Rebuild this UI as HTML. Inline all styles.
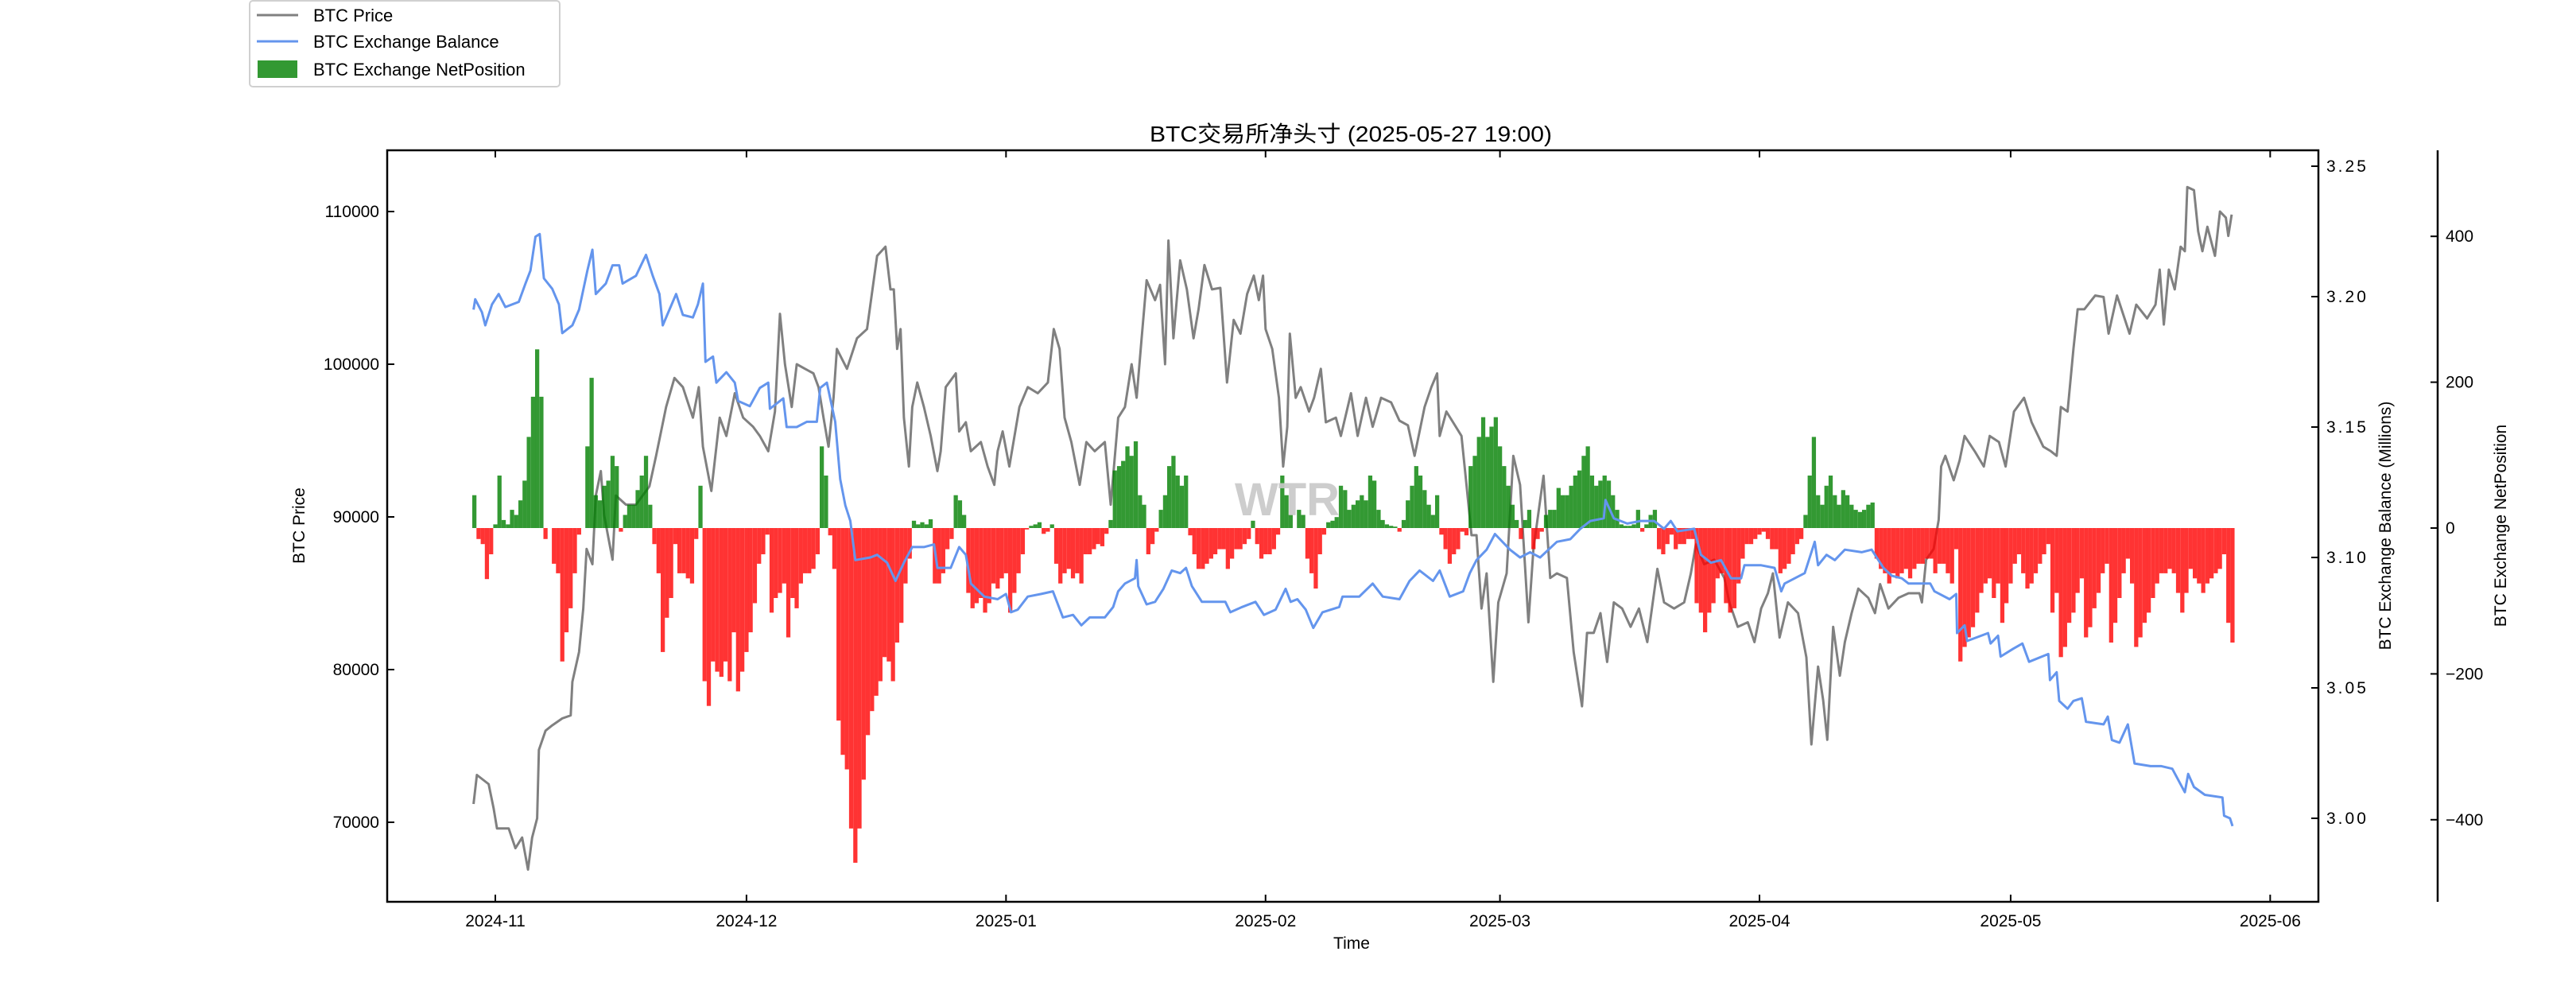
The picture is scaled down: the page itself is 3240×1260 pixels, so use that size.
<!DOCTYPE html>
<html><head><meta charset="utf-8"><style>
html,body{margin:0;padding:0;background:#fff;}
svg{display:block;font-family:"Liberation Sans","Noto Sans CJK SC",sans-serif;}
</style></head><body>
<svg id="chart" width="3240" height="1260" viewBox="0 0 3240 1260" xmlns="http://www.w3.org/2000/svg">
<defs><clipPath id="plotclip"><rect x="487" y="189" width="2428" height="945"/></clipPath></defs>
<rect x="0" y="0" width="3240" height="1260" fill="#fff"/>
<text x="1699" y="178" font-size="28" text-anchor="middle" textLength="506" lengthAdjust="spacingAndGlyphs">BTC交易所净头寸 (2025-05-27 19:00)</text>
<g id="plot" clip-path="url(#plotclip)"></g>
<text x="1619" y="648" font-size="58" font-weight="bold" fill="#c8c8c8" text-anchor="middle" opacity="0.9">WTR</text>
<g id="axes"></g>
<g>
<rect x="314" y="1" width="390" height="108" rx="4" fill="#fff" stroke="#d0d0d0" stroke-width="2"/>
<line x1="323" y1="19" x2="375" y2="19" stroke="#808080" stroke-width="3"/>
<text x="394" y="27" font-size="22">BTC Price</text>
<line x1="323" y1="52" x2="375" y2="52" stroke="#6495ED" stroke-width="3"/>
<text x="394" y="60" font-size="22">BTC Exchange Balance</text>
<rect x="324" y="76" width="50" height="22" fill="#339933"/>
<text x="394" y="95" font-size="22">BTC Exchange NetPosition</text>
</g>
</svg>
<script>
// day offsets from 2024-11-01
const priceDays=[-2.6,-2.2,-0.8,-0.2,0.2,1.6,2.4,3.2,3.9,4.4,5.0,5.2,6,6.8,8,9,9.2,10,10.5,10.9,11.6,12,12.6,13,14,14.4,15.6,16.8,18.4,19.2,20.4,21.4,22.4,23.6,24.3,24.8,25.8,26.8,27.6,28.6,29.6,30.8,31.6,32.6,33.4,34,34.6,35.4,36,37,38,38.6,39.2,39.8,40.4,40.8,42,43.2,44.4,45.6,46.6,47.2,47.6,48,48.4,48.8,49.4,49.8,50.4,51.2,52,52.8,53.2,53.8,55,55.4,56.2,56.8,58,58.8,59.6,60,60.6,61.4,62.6,63.6,64.8,66,66.7,67.4,68,68.8,69.8,70.6,71.6,72.8,73.5,74.4,75.2,76,76.6,77.2,77.8,78.8,79.4,80,80.4,81,81.8,82.6,83.4,84,84.7,85.6,86.6,87.4,88.2,89,89.8,90.6,91.2,91.7,92,92.8,93.6,94.1,94.6,94.9,95.6,96.2,97.2,97.8,98.6,99.2,100.4,101,102.2,103,104,104.8,105.8,107,108,109,109.8,111,111.8,112.5,112.8,113.6,114.4,115.4,116,116.6,117.2,117.8,118.4,119.2,119.8,120.8,121.6,122.4,123.4,124,125.2,126,126.8,128,128.8,129.8,130.4,131.2,132,132.8,133.6,134.6,135.6,136.6,137.6,138.8,139.6,140.8,142,142.8,143.4,144.4,145.6,146.8,147.4,148.4,149.6,150.4,151.2,152,152.6,153.4,154.4,155.6,156.6,157.2,158,158.6,159.1,159.8,160.6,161.2,162,162.8,164,164.8,165.4,166.4,167.6,168.8,170.1,170.4,170.9,171.8,172.4,172.7,173.2,174.2,174.9,175.5,176.7,177.8,178.5,179.6,180.4,181.4,182.6,183.5,184.9,185.8,186.5,187,187.8,188.5,189,189.8,191.1,192.1,192.7,193.7,195.2,196,197.3,198.3,198.8,199.3,199.9,200.6,201.3,201.8,202.1,202.9,203.4,203.9,204.5,205.4,206,206.7,207,207.4];
const priceVals=[71200,73100,72500,70900,69600,69600,68300,69000,66900,69000,70260,74740,76000,76350,76800,77000,79200,81150,84000,87900,86900,91400,93000,90100,87200,91400,90800,90800,92000,94000,97200,99100,98500,96500,98500,94600,91700,96500,95300,98100,96500,95900,95300,94300,96900,103300,100000,97200,100000,99700,99400,98500,96500,94600,97800,101000,99700,101700,102300,107100,107700,104900,104900,101000,102300,96500,93300,97200,98800,97200,95300,93000,94300,98500,99400,95600,96200,94300,94900,93300,92100,94300,95600,93300,97200,98500,98100,98800,102300,101000,96500,94900,92100,94900,94300,94900,90800,96500,97200,100000,97800,101700,105500,104200,105200,100000,108100,101700,106800,104900,101700,103600,106500,104900,105000,98800,102900,102000,104600,105800,104200,105800,102300,101000,97800,93300,95900,102000,97800,98500,96900,97800,99700,96200,96500,95300,98100,95300,97800,95900,97800,97500,96300,96000,94000,97200,98500,99400,95300,96900,96200,95300,92100,88800,88800,84000,86300,79200,84400,86300,94000,92100,83100,87900,92700,86000,86300,86000,81150,77600,82400,82400,83700,80500,84400,84000,82800,84000,81800,86600,84400,84000,84400,86300,88200,86900,87200,86000,84400,82800,83100,81800,84000,85000,86300,82100,84400,83700,80800,75100,80200,78000,75400,82800,79600,81800,83700,85300,84700,83700,85600,84000,84700,85000,85000,84400,87200,87900,89800,93300,94000,92400,93700,95300,94300,93300,95300,94900,93300,96900,97800,96200,94600,94300,94000,97200,96900,101000,103600,103600,104500,104400,102000,104500,102000,103900,103000,103900,106200,102600,106200,104900,107700,107400,111600,111400,108700,107400,109000,107100,110000,109600,108400,109800];
const balDays=[-2.6,-2.4,-1.6,-1.2,-0.4,0.4,1.2,2.8,3.6,4.2,4.8,5.3,5.8,6.8,7.6,8,9.2,10,11,11.6,12,13.2,14,14.8,15.2,16.8,18,18.8,19.6,20,20.8,21.6,22.4,23.6,24.2,24.8,25.1,26,26.4,27.6,28.6,29,30.4,31.6,32.6,32.8,34.4,34.8,36,37.2,38.4,38.8,39.6,40.6,41.2,41.8,42.4,43,44.8,45.6,46.8,47.8,48.8,49.8,51.2,52.4,52.8,54.4,55.4,56.2,56.8,58.4,60,61,61.6,62.4,63.6,65.2,66.6,67.2,67.8,69,70,71,72.8,73.8,74.4,75.2,76.4,76.6,76.8,77.8,78.8,79.8,80.8,81.8,82.5,83.2,84.4,85.6,87.2,87.8,89.2,90.8,91.8,93.2,94.4,95,95.8,96.8,97.7,98.8,100.8,101.2,103.2,104.8,106,108,109.2,110.4,112,112.8,114,115.6,116.4,117.2,118.4,119.4,121.2,122.4,123.6,124.8,126.8,128.4,129.6,130.8,132.4,132.6,133.6,135.2,136.8,138.4,139.6,140.4,141.2,143.2,144,145.2,146.4,147.6,148.8,149.2,151.2,152.8,153.6,154,156.4,157.6,158,159,160,161.2,163.2,164.4,165.8,166.8,168,168.8,171.4,171.9,173.7,174.5,174.6,175.5,175.8,178.3,178.6,179.5,179.8,181.3,182.4,183.2,185.5,185.7,186.5,186.8,187.8,188.5,189.5,190,192.1,192.6,193.1,194.0,195,195.8,197.7,199,200.3,201.8,202.2,202.9,204.2,206.3,206.5,207.2,207.5];
const balVals=[3.195,3.199,3.194,3.189,3.197,3.201,3.196,3.198,3.205,3.210,3.223,3.224,3.207,3.203,3.197,3.186,3.189,3.195,3.210,3.218,3.201,3.205,3.212,3.212,3.205,3.208,3.216,3.208,3.201,3.189,3.195,3.201,3.193,3.192,3.197,3.205,3.175,3.177,3.167,3.171,3.167,3.160,3.158,3.165,3.167,3.157,3.161,3.150,3.150,3.152,3.152,3.165,3.167,3.152,3.130,3.120,3.114,3.099,3.100,3.101,3.098,3.091,3.098,3.104,3.104,3.105,3.096,3.096,3.104,3.101,3.090,3.085,3.084,3.086,3.079,3.080,3.085,3.086,3.087,3.082,3.077,3.078,3.074,3.077,3.077,3.081,3.087,3.090,3.092,3.099,3.089,3.082,3.083,3.088,3.095,3.094,3.096,3.089,3.083,3.083,3.083,3.079,3.081,3.083,3.078,3.080,3.088,3.083,3.084,3.080,3.073,3.079,3.081,3.085,3.085,3.090,3.085,3.084,3.091,3.095,3.091,3.095,3.085,3.087,3.094,3.099,3.103,3.109,3.103,3.100,3.102,3.100,3.106,3.107,3.111,3.114,3.115,3.122,3.115,3.113,3.114,3.114,3.111,3.114,3.110,3.111,3.101,3.098,3.099,3.092,3.092,3.097,3.097,3.096,3.087,3.090,3.094,3.106,3.097,3.101,3.099,3.103,3.102,3.103,3.096,3.093,3.092,3.090,3.090,3.087,3.084,3.086,3.071,3.074,3.068,3.071,3.067,3.070,3.062,3.065,3.067,3.060,3.063,3.053,3.056,3.045,3.042,3.045,3.046,3.037,3.036,3.039,3.030,3.029,3.036,3.021,3.020,3.020,3.019,3.010,3.017,3.012,3.009,3.008,3.001,3.000,2.997];
const netStartDay=-2.5;
const netStepDay=0.5;
const netVals=[45,-15,-22,-70,-36,5,72,11,5,25,18,38,65,125,180,245,180,-15,0,-49,-62,-183,-143,-110,-62,-9,0,112,206,45,38,58,65,99,85,-5,18,32,32,52,72,99,32,-22,-62,-170,-123,-96,-22,-62,-62,-69,-76,-15,58,-210,-244,-183,-197,-204,-183,-210,-143,-224,-197,-170,-143,-103,-49,-36,-9,-116,-96,-89,-76,-150,-96,-110,-76,-62,-62,-56,-36,112,72,-10,-56,-264,-311,-331,-412,-459,-412,-345,-284,-251,-230,-210,-177,-183,-210,-157,-130,-76,-42,10,5,8,5,12,-76,-76,-62,-29,-15,45,38,18,-89,-110,-103,-96,-116,-103,-76,-83,-69,-62,-116,-89,-62,-36,-2,3,5,8,-8,-5,5,-49,-76,-62,-56,-69,-62,-76,-36,-36,-29,-22,-25,-8,11,79,85,92,112,99,119,45,32,-36,-22,-5,25,45,85,99,72,58,72,-10,-36,-56,-56,-49,-42,-36,-29,-29,-56,-42,-29,-29,-22,-15,10,-22,-42,-36,-36,-29,-9,72,45,18,0,25,18,-42,-62,-83,-36,-9,8,10,15,58,52,25,32,38,45,38,72,65,25,11,5,3,2,-5,11,38,58,85,72,52,32,18,45,-9,-29,-49,-36,-29,-5,-10,85,99,125,152,125,139,152,112,85,58,32,11,-15,11,25,-29,-15,-5,18,25,25,55,45,45,58,72,79,99,112,72,58,65,72,65,45,25,5,3,3,5,25,-5,5,18,25,-29,-36,-22,-9,-29,-22,-22,-15,-15,-103,-116,-143,-116,-103,-69,-62,-103,-116,-110,-76,-42,-22,-22,-15,-9,-5,-15,-29,-29,-62,-56,-49,-36,-22,-15,18,72,125,45,32,58,72,45,32,52,45,32,25,22,25,32,35,-42,-56,-62,-76,-62,-69,-62,-56,-69,-56,-49,-49,-42,-42,-62,-49,-49,-62,-76,-29,-183,-163,-150,-136,-116,-89,-76,-69,-96,-76,-130,-103,-76,-49,-36,-62,-83,-76,-62,-49,-36,-22,-116,-89,-177,-163,-130,-116,-89,-69,-150,-136,-110,-89,-62,-49,-157,-130,-96,-62,-42,-76,-163,-150,-130,-116,-96,-76,-62,-62,-56,-62,-89,-116,-89,-56,-69,-76,-89,-76,-69,-62,-56,-36,-130,-157];
const xTickDays=[0,30,61,92,120,151,181,212];
const xTickLabels=["2024-11","2024-12","2025-01","2025-02","2025-03","2025-04","2025-05","2025-06"];
const priceTicks=[70000,80000,90000,100000,110000];
const balTicks=[3.00,3.05,3.10,3.15,3.20,3.25];
const balTickLabels=["3.00","3.05","3.10","3.15","3.20","3.25"];
const netTicks=[-400,-200,0,200,400];

const NS="http://www.w3.org/2000/svg";
const L=487,R=2916,T=189,B=1134,R3=3066;
function xOf(d){return 623+d*10.53;}
function yP(p){return 650-(p-90000)*0.0192;}
function yB(b){return 1029-(b-3)*3280;}
function yN(n){return 664-n*0.917;}
function mk(tag,attrs,parent){const e=document.createElementNS(NS,tag);for(const k in attrs)e.setAttribute(k,attrs[k]);parent.appendChild(e);return e;}
const plot=document.getElementById('plot');
const axes=document.getElementById('axes');

// price line
let dp='';
for(let i=0;i<priceDays.length;i++){dp+=(i?'L':'M')+xOf(priceDays[i]).toFixed(1)+','+yP(priceVals[i]).toFixed(1);}
const pl=mk('path',{d:dp,fill:'none',stroke:'#808080','stroke-width':3,'stroke-linejoin':'round'},plot);



// net position bars
const bars=mk('g',{},plot);


for(let i=0;i<netVals.length;i++){
  const v=netVals[i];
  if(v===0)continue;
  const d=netStartDay+i*netStepDay;
  const x=xOf(d-netStepDay/2);
  const w=10.53*netStepDay;
  const y0=yN(0),y1=yN(v);
  const r=mk('rect',{x:x.toFixed(1),y:Math.min(y0,y1).toFixed(1),width:w.toFixed(2),height:Math.abs(y1-y0).toFixed(1),fill:v>0?'#008000':'#ff0000','fill-opacity':0.8},bars);
  
  
}

// balance line
let db='';
for(let i=0;i<balDays.length;i++){db+=(i?'L':'M')+xOf(balDays[i]).toFixed(1)+','+yB(balVals[i]).toFixed(1);}
const bl=mk('path',{d:db,fill:'none',stroke:'#6495ED','stroke-width':3,'stroke-linejoin':'round'},plot);



// frame
const fr=mk('rect',{x:L,y:T,width:R-L,height:B-T,fill:'none',stroke:'#000','stroke-width':2.5},axes);


const sp3=mk('line',{x1:R3,y1:T,x2:R3,y2:B,stroke:'#000','stroke-width':2.5},axes);



// x ticks
for(let i=0;i<xTickDays.length;i++){
  const x=xOf(xTickDays[i]);
  mk('line',{x1:x,y1:B,x2:x,y2:B-9,stroke:'#000','stroke-width':2},axes);
  mk('line',{x1:x,y1:T,x2:x,y2:T+9,stroke:'#000','stroke-width':2},axes);
  const t=mk('text',{x:x,y:1165,'font-size':21,'text-anchor':'middle'},axes);
  t.textContent=xTickLabels[i];
  
  
}
// price ticks
for(const p of priceTicks){
  const y=yP(p);
  mk('line',{x1:L,y1:y,x2:L+9,y2:y,stroke:'#000','stroke-width':2},axes);
  const t=mk('text',{x:L-10,y:y+7,'font-size':21,'text-anchor':'end'},axes);
  t.textContent=String(p);
  
  
}
// balance ticks
for(let i=0;i<balTicks.length;i++){
  const y=yB(balTicks[i]);
  mk('line',{x1:R,y1:y,x2:R-9,y2:y,stroke:'#000','stroke-width':2},axes);
  const t=mk('text',{x:2926,y:y+7,'font-size':21,'letter-spacing':'3'},axes);
  t.textContent=balTickLabels[i];
  
  
}
// net ticks
for(const n of netTicks){
  const y=yN(n);
  mk('line',{x1:R3,y1:y,x2:R3-9,y2:y,stroke:'#000','stroke-width':2},axes);
  const t=mk('text',{x:3076,y:y+7,'font-size':21},axes);
  t.textContent=n<0?('\u2212'+Math.abs(n)):String(n);
  
  
}
// axis titles
function vtitle(x,y,txt,name){
  const t=mk('text',{x:x,y:y,'font-size':21,'text-anchor':'middle',transform:'rotate(-90 '+x+' '+y+')'},axes);
  t.textContent=txt;
  
  
}
vtitle(383,661,'BTC Price','y-axis-title-price');
vtitle(3007,661,'BTC Exchange Balance (Millions)','y-axis-title-balance');
vtitle(3152,661,'BTC Exchange NetPosition','y-axis-title-netposition');
const xt=mk('text',{x:1700,y:1193,'font-size':21,'text-anchor':'middle'},axes);
xt.textContent='Time';


</script>
</body></html>
